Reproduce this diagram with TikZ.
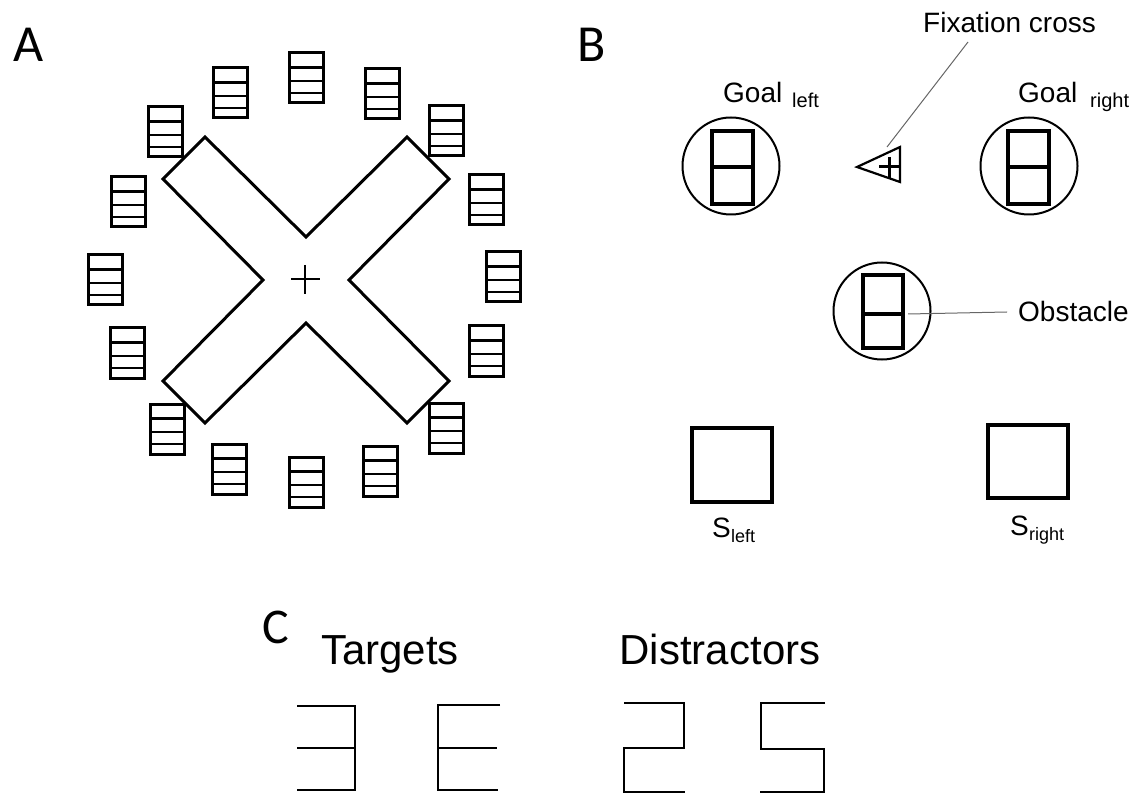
\documentclass[tikz,border=0pt]{standalone}
\usepackage{fontspec}
\setmainfont{Liberation Sans}
\newfontfamily\letterfont{Carlito}
\begin{document}
\begin{tikzpicture}[x=1pt,y=-1pt,
  stimline/.style={line width=3pt},
  thickline/.style={line width=3.2pt, line join=miter},
  digitline/.style={line width=2.7pt, line join=miter},
  ringline/.style={draw, circle, line width=2pt, minimum size=97pt, inner sep=0pt},
  leader/.style={draw=black!60, line width=1pt},
  lbl/.style={inner sep=0pt, anchor=base west, font=\fontsize{28}{30}\selectfont},
  sublbl/.style={inner sep=0pt, anchor=base west, font=\fontsize{20}{22}\selectfont},
  ssublbl/.style={inner sep=0pt, anchor=base west, font=\fontsize{18}{20}\selectfont},
  panel/.style={inner sep=0pt, anchor=base west, font=\letterfont\fontsize{52}{54}\selectfont},
  head/.style={inner sep=0pt, anchor=base, font=\fontsize{42}{44}\selectfont},
  stimbox/.pic={
    \draw[stimline] (-17,-25) rectangle (17,25);
    \foreach \f in {0.29,0.56,0.8} \draw[line width=2.6pt] (-17,{-25+50*\f}) -- (17,{-25+50*\f});
  }
]
\useasboundingbox (0,0) rectangle (1140,799);

% ---------- Panel A ----------
\node[panel] (labA) at (13,62) {A};
\foreach \px/\py in {306/78,230/93,382/94,165/132,446/131,128/202,486/200,105/280,503/277,127/353,486/351,167/429,446/428,229/469,380/471,306/482}
  \pic at (\px,\py) {stimbox};
\draw[stimline, line join=miter] (306,237) -- (407,137) -- (449,179) -- (349,280) -- (449,381) -- (407,423) -- (306,323) -- (205,423) -- (163,381) -- (263,280) -- (163,179) -- (205,137) -- cycle;
\draw[line width=2.2pt] (291,279) -- (320,279) (305,265) -- (305,294);

% ---------- Panel B ----------
\node[panel] (labB) at (577,62) {B};
% goal left
\node[ringline] (goalL) at (731,166) {};
\draw[thickline] (712,131) rectangle (753,204) (712,167) -- (753,167);
\node[lbl] (goalLt) at (723,103) {Goal};
\node[sublbl] (goalLs) at (792,108) {left};
% goal right
\node[ringline] (goalR) at (1029,166) {};
\draw[thickline] (1008,131) rectangle (1049,204) (1008,167) -- (1049,167);
\node[lbl] (goalRt) at (1018,103) {Goal};
\node[sublbl] (goalRs) at (1090,108) {right};
% fixation cross
\draw[line width=2.2pt, line join=miter] (857,167) -- (900,147) -- (900,182) -- cycle;
\draw[line width=3pt] (879,167) -- (900,167) (889,157) -- (889,179);
\coordinate (fixtip) at (887,147);
\coordinate (fixend) at (968,42);
\node[lbl] (fixlbl) at (923,33) {Fixation cross};
\draw[leader] (fixtip) -- (fixend);
% obstacle
\node[ringline] (obst) at (882,311) {};
\draw[thickline] (863,275) rectangle (903,348) (863,314) -- (903,314);
\coordinate (obstin) at (908,314);
\coordinate (obstend) at (1007,312);
\node[lbl] (obstlbl) at (1018,322) {Obstacle};
\draw[leader] (obstin) -- (obstend);
% start squares
\draw[thickline] (692,428) rectangle (772,502);
\draw[thickline] (988,425) rectangle (1068,498);
\node[lbl] (sL) at (712,537) {S};
\node[ssublbl] (sLs) at (731,542) {left};
\node[lbl] (sR) at (1010,535) {S};
\node[ssublbl] (sRs) at (1029,540) {right};

% ---------- Panel C ----------
\node[panel, font=\letterfont\fontsize{50}{52}\selectfont] (labC) at (262,643) {C};
\node[head] (targ) at (390,664) {Targets};
\node[head] (dist) at (720,664) {Distractors};
\draw[digitline] (297,706) -- (355,706) -- (355,790) -- (297,790) (297,748) -- (355,748);
\draw[digitline] (500,705) -- (438,705) -- (438,790) -- (498,790) (438,748) -- (497,748);
\draw[digitline] (624,703) -- (684,703) -- (684,748) -- (624,748) -- (624,792) -- (685,792);
\draw[digitline] (825,703) -- (761,703) -- (761,749) -- (824,749) -- (824,792) -- (760,792);
\end{tikzpicture}
\end{document}
